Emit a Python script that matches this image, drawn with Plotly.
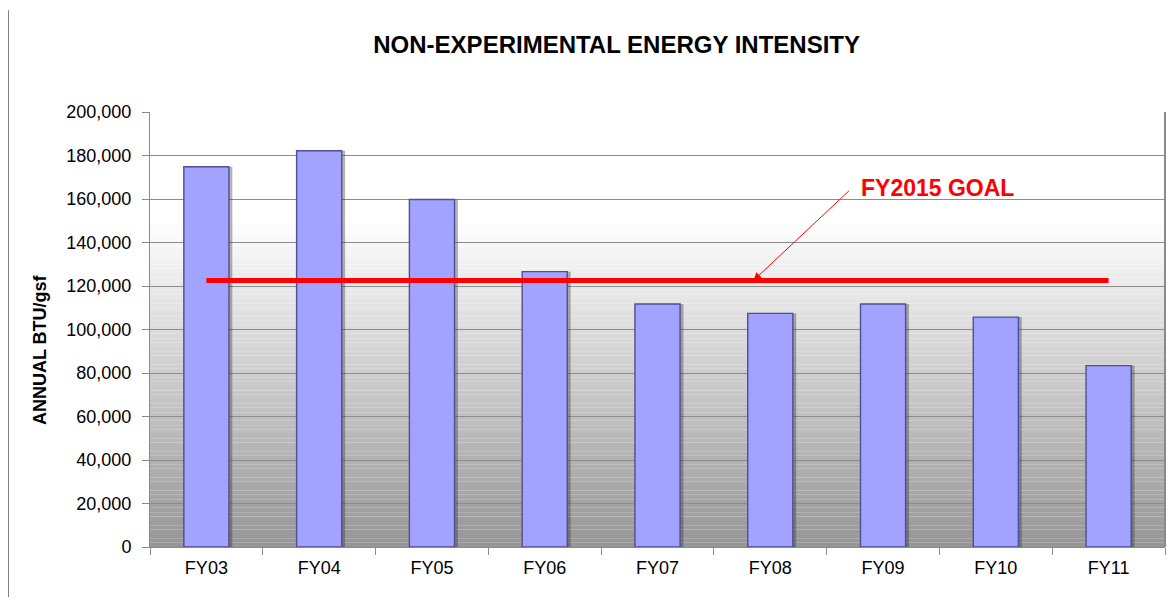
import plotly.graph_objects as go

categories = ["FY03", "FY04", "FY05", "FY06", "FY07", "FY08", "FY09", "FY10", "FY11"]
intensity = [174800, 182200, 159800, 126600, 111700, 107400, 111700, 105700, 83400]
goal_value = 122500
goal_label = "FY2015 GOAL"
y_title = "ANNUAL BTU/gsf"
y_ticks = [0, 20000, 40000, 60000, 80000, 100000, 120000, 140000, 160000, 180000, 200000]
y_ticktext = ["0", "20,000", "40,000", "60,000", "80,000", "100,000", "120,000",
              "140,000", "160,000", "180,000", "200,000"]

FONT = "Liberation Sans, Arial, sans-serif"

fig = go.Figure()

# bar shadow
fig.add_trace(go.Bar(
    x=categories, y=intensity, width=0.4, offset=-0.17,
    marker=dict(color="rgba(40,40,40,0.35)", line=dict(width=0)),
    hoverinfo="skip", showlegend=False,
))
# bars
fig.add_trace(go.Bar(
    x=categories, y=intensity, width=0.4, offset=-0.2,
    marker=dict(color="#a2a2ff", line=dict(color="#4f4f96", width=1.4)),
    showlegend=False,
))
# goal line
fig.add_trace(go.Scatter(
    x=categories, y=[goal_value] * len(categories), mode="lines",
    line=dict(color="#ff0000", width=5), showlegend=False,
))

# gradient background
shapes = []
top = 150000
steps = 75
for i in range(steps):
    y0 = top * i / steps
    y1 = top * (i + 1) / steps
    t = (i + 0.5) / steps
    c = int(150 + (255 - 150) * t)
    shapes.append(dict(type="rect", xref="paper", yref="y", x0=0, x1=1, y0=y0, y1=y1,
                       fillcolor=f"rgb({c},{c},{c})", line=dict(width=0), layer="below"))
# right border of plot area
shapes.append(dict(type="line", xref="paper", yref="paper", x0=1, x1=1, y0=0, y1=1,
                   line=dict(color="#8a8a8a", width=2)))
# slide left edge line
shapes.append(dict(type="line", xref="paper", yref="paper", x0=-0.1394, x1=-0.1394,
                   y0=-0.115, y1=1.234, line=dict(color="#808080", width=1)))

fig.update_layout(
    width=1166, height=598,
    margin=dict(l=142, r=9, t=104, b=59),
    paper_bgcolor="white", plot_bgcolor="rgba(0,0,0,0)",
    shapes=shapes,
    bargap=0.6,
    title=dict(text="<b>NON-EXPERIMENTAL ENERGY INTENSITY</b>", x=0.522, xanchor="center",
               y=1 - (45 - 8) / 598, yanchor="middle",
               font=dict(family=FONT, size=24, color="black")),
    font=dict(family=FONT, color="black"),
    xaxis=dict(showgrid=False, showline=True, linecolor="#8a8a8a", linewidth=1,
               ticks="outside", tickson="boundaries", ticklen=7, tickcolor="#8a8a8a",
               ticklabelstandoff=4,
               tickfont=dict(size=18, family=FONT), range=[-0.5, 8.5]),
    yaxis=dict(range=[0, 200000], tickvals=y_ticks, ticktext=y_ticktext,
               showgrid=True, gridcolor="#8c8c8c", gridwidth=1,
               showline=True, linecolor="#8a8a8a", linewidth=1,
               ticks="outside", ticklen=7, tickcolor="#8a8a8a",
               ticklabelstandoff=7,
               tickfont=dict(size=18, family=FONT),
               zeroline=False),
    annotations=[
        # arrow pointing to the goal line
        dict(
            x=4.85, y=goal_value, xref="x", yref="y",
            text="", showarrow=True,
            ax=97, ay=-91, axref="pixel", ayref="pixel",
            arrowhead=2, arrowsize=1.6, arrowwidth=1, arrowcolor="#ff0000",
        ),
        # goal label
        dict(
            x=0.776, y=0.826, xref="paper", yref="paper",
            text=f"<b>{goal_label}</b>", showarrow=False,
            xanchor="center", yanchor="middle",
            font=dict(family=FONT, size=23, color="#ff0000"),
        ),
        dict(
            x=-0.1084, y=0.455, xref="paper", yref="paper",
            text=f"<b>{y_title}</b>", showarrow=False, textangle=-90,
            xanchor="center", yanchor="middle",
            font=dict(family=FONT, size=18, color="black"),
        ),
    ],
)

fig.write_html("out.html")
